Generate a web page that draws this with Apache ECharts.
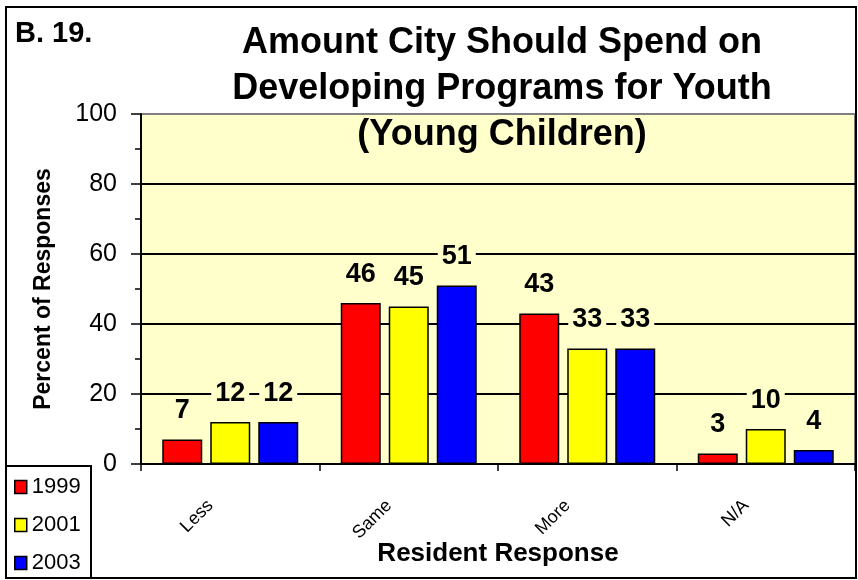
<!DOCTYPE html>
<html>
<head>
<meta charset="utf-8">
<script src="https://cdn.jsdelivr.net/npm/echarts@6/dist/echarts.min.js"></script>
<style>
  html, body { margin: 0; padding: 0; background: #fff; }
  #chart { width: 858px; height: 580px; }
</style>
</head>
<body>
<div id="chart"></div>
<script>
const categories = ['Less', 'Same', 'More', 'N/A'];
const years = ['1999', '2001', '2003'];
const values1999 = [7, 46, 43, 3];
const values2001 = [12, 45, 33, 10];
const values2003 = [12, 51, 33, 4];
const colors = ['#FF0000', '#FFFF00', '#0000FF'];

const font = '"Liberation Sans", Arial, sans-serif';
const plotBg = '#FFFFCC';

function barSeries(name, data, color) {
  return {
    name: name,
    type: 'bar',
    data: data,
    barWidth: 40,
    barGap: '20%',
    itemStyle: { color: color, borderColor: '#000', borderWidth: 1.5 },
    label: {
      show: true,
      position: 'top',
      distance: 15,
      color: '#000',
      fontFamily: font,
      fontWeight: 'bold',
      fontSize: 27,
      backgroundColor: plotBg,
      padding: [0, 4, 0, 4]
    }
  };
}

const chart = echarts.init(document.getElementById('chart'));
chart.setOption({
  animation: false,
  backgroundColor: '#fff',
  textStyle: { fontFamily: font },
  title: [
    {
      text: 'Amount City Should Spend on\nDeveloping Programs for Youth\n(Young Children)',
      left: 497,
      top: 15,
      textAlign: 'center',
      textStyle: {
        fontFamily: font,
        fontWeight: 'bold',
        fontSize: 36,
        lineHeight: 46,
        color: '#000'
      }
    },
    {
      text: 'B. 19.',
      left: 10,
      top: 14,
      textStyle: { fontFamily: font, fontWeight: 'bold', fontSize: 29, color: '#000' }
    }
  ],
  legend: {
    orient: 'vertical',
    left: 14,
    top: 476,
    padding: 0,
    itemWidth: 12,
    itemHeight: 13,
    itemGap: 16,
    icon: 'rect',
    data: years,
    itemStyle: { borderColor: '#000', borderWidth: 1.5 },
    textStyle: { fontFamily: font, fontSize: 22, lineHeight: 22, color: '#000' }
  },
  grid: {
    left: 141,
    right: 3,
    top: 114,
    bottom: 116,
    show: true,
    backgroundColor: plotBg,
    borderColor: '#808080',
    borderWidth: 2
  },
  xAxis: {
    type: 'category',
    data: categories,
    name: 'Resident Response',
    nameLocation: 'middle',
    nameGap: 77,
    nameMoveOverlap: false,
    nameTextStyle: { fontFamily: font, fontWeight: 'bold', fontSize: 26, color: '#000' },
    axisLine: { lineStyle: { color: '#000', width: 2 } },
    axisTick: { show: true, length: 7, lineStyle: { color: '#000', width: 1.5 } },
    axisLabel: {
      rotate: 45,
      margin: 19,
      fontFamily: font,
      fontSize: 18,
      color: '#000',
      padding: [0, 28, 0, 0]
    }
  },
  yAxis: {
    type: 'value',
    min: 0,
    max: 100,
    interval: 20,
    name: 'Percent of Responses',
    nameLocation: 'middle',
    nameGap: 86,
    nameRotate: 90,
    nameTextStyle: { fontFamily: font, fontWeight: 'bold', fontSize: 23, color: '#000' },
    axisLine: { show: true, lineStyle: { color: '#000', width: 2 } },
    axisTick: { show: true, length: 10, lineStyle: { color: '#000', width: 1.5 } },
    minorTick: { show: true, splitNumber: 2, length: 6, lineStyle: { color: '#000', width: 1.5 } },
    axisLabel: { margin: 24, fontFamily: font, fontSize: 25, color: '#000' },
    splitLine: {
      show: true,
      showMaxLine: false,
      showMinLine: false,
      lineStyle: { color: '#000', width: 1.8 }
    }
  },
  graphic: [
    {
      type: 'rect',
      shape: { x: 6, y: 7, width: 850, height: 571 },
      style: { fill: null, stroke: '#000', lineWidth: 2 },
      z: 100
    },
    {
      type: 'rect',
      shape: { x: 6, y: 466, width: 85, height: 112 },
      style: { fill: null, stroke: '#000', lineWidth: 2 },
      z: 100
    }
  ],
  series: [
    barSeries(years[0], values1999, colors[0]),
    barSeries(years[1], values2001, colors[1]),
    barSeries(years[2], values2003, colors[2])
  ]
});
window.addEventListener('resize', function() {
  chart.resize();
});
</script>
</body>
</html>
